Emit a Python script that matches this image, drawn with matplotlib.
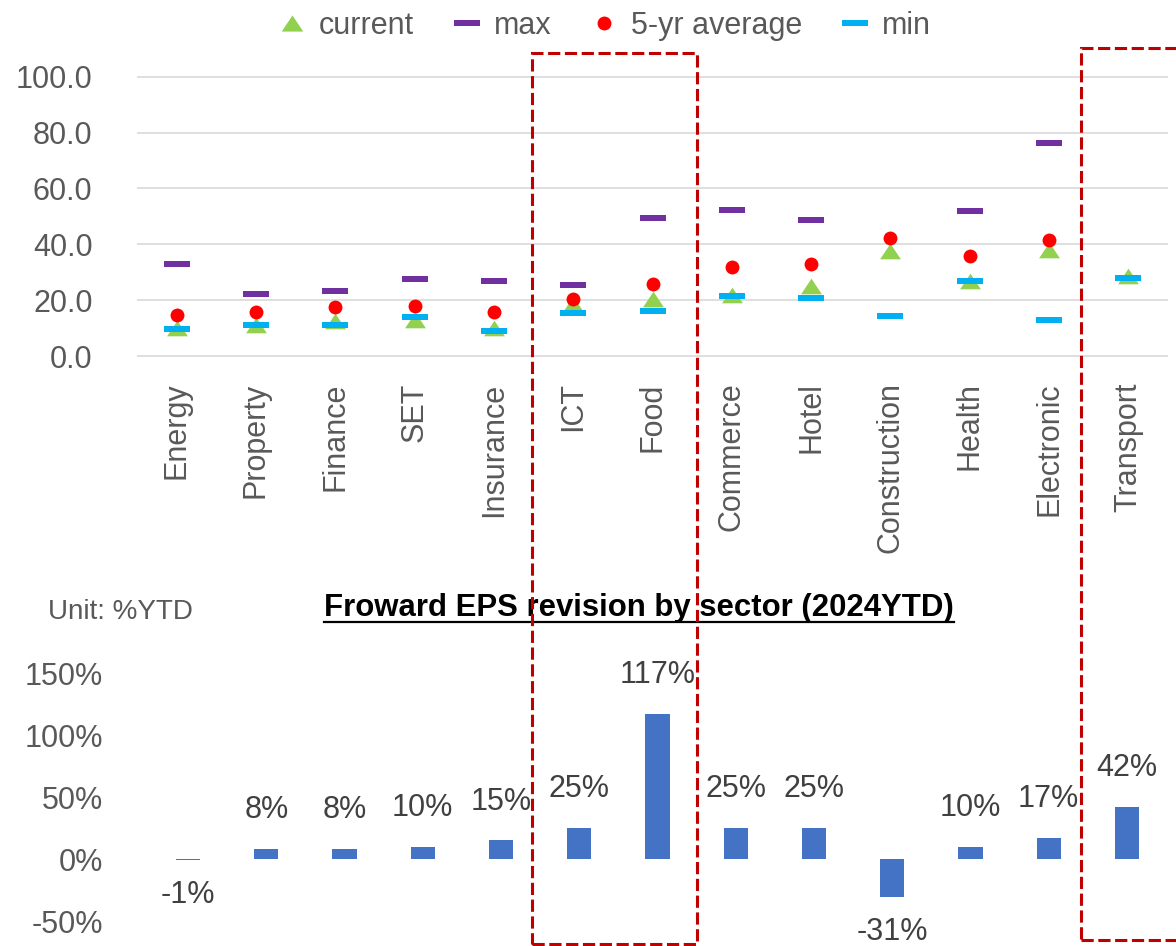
import numpy as np
import matplotlib
matplotlib.use("Agg")
import matplotlib.pyplot as plt
from matplotlib.lines import Line2D
from matplotlib.patches import Rectangle

plt.rcParams['font.family'] = ['Liberation Sans', 'DejaVu Sans']

categories = ['Energy', 'Property', 'Finance', 'SET', 'Insurance', 'ICT', 'Food',
              'Commerce', 'Hotel', 'Construction', 'Health', 'Electronic', 'Transport']
current = [10, 11, 12.5, 13, 10, 18.5, 20.5, 22, 25, 37.5, 27, 38, 28.5]
max_pe = [33, 22.3, 23.4, 27.7, 27, 25.4, 49.4, 52.3, 48.7, np.nan, 51.9, 76.4, np.nan]
avg_5yr = [14.7, 15.9, 17.7, 17.8, 15.9, 20.5, 25.7, 32, 32.9, 42.2, 35.9, 41.5, np.nan]
min_pe = [9.8, 11.2, 11.2, 14.1, 9.1, 15.4, 16.2, 21.5, 20.8, 14.3, 26.8, 12.9, 27.9]
eps_rev = [-1, 8, 8, 10, 15, 25, 117, 25, 25, -31, 10, 17, 42]

W, H = 1176, 946
fig = plt.figure(figsize=(W / 100, H / 100), dpi=100)

def fx(px):
    return px / W

def fy(py):
    return 1 - py / H

GRAY = '#595959'
x = np.arange(len(categories))

# ---------- top panel ----------
ax1 = fig.add_axes([fx(137), fy(361.6), fx(1168 - 137), (361.6 - 71.2) / H])
ax1.set_xlim(-0.5, len(categories) - 0.5)
ax1.set_ylim(-2, 102)
ax1.set_yticks(np.arange(0, 101, 20))
ax1.set_yticklabels([f'{v:.1f}' for v in np.arange(0, 101, 20)])
for v in np.arange(0, 101, 20):
    ax1.axhline(v, color='#D9D9D9', lw=1.2, zorder=0)
for s in ax1.spines.values():
    s.set_visible(False)
ax1.set_xticks(x)
ax1.set_xticklabels(categories, rotation=90, va='top', ha='center')
ax1.tick_params(axis='x', length=0, pad=15, labelsize=22, labelcolor=GRAY)
ax1.tick_params(axis='y', length=0, pad=32, labelsize=22, labelcolor=GRAY)

tri = [(-1, -0.75), (1, -0.75), (0, 0.75), (-1, -0.75)]
dash = [(-1, -0.22), (1, -0.22), (1, 0.22), (-1, 0.22), (-1, -0.22)]

c_tri, c_max, c_avg, c_min = '#92D050', '#7030A0', '#FF0000', '#00B0F0'
ax1.plot(x, current, linestyle='none', marker=tri, markersize=15, color=c_tri, mew=0, clip_on=False, zorder=3)
ax1.plot(x, max_pe, linestyle='none', marker=dash, markersize=19.4, color=c_max, mew=0, clip_on=False, zorder=4)
ax1.plot(x, avg_5yr, linestyle='none', marker='o', markersize=10, color=c_avg, mew=0, clip_on=False, zorder=5)
ax1.plot(x, min_pe, linestyle='none', marker=dash, markersize=19.4, color=c_min, mew=0, clip_on=False, zorder=6)

handles = [
    Line2D([], [], linestyle='none', marker=tri, markersize=15.5, color=c_tri, mew=0),
    Line2D([], [], linestyle='none', marker=dash, markersize=19.4, color=c_max, mew=0),
    Line2D([], [], linestyle='none', marker='o', markersize=10, color=c_avg, mew=0),
    Line2D([], [], linestyle='none', marker=dash, markersize=19.4, color=c_min, mew=0),
]
leg = fig.legend(handles, ['current', 'max', '5-yr average', 'min'], loc='center',
                 bbox_to_anchor=(fx(605), fy(26)), ncol=4, frameon=False, fontsize=22,
                 handlelength=0.85, handletextpad=0.45, columnspacing=1.3, borderpad=0)
for t in leg.get_texts():
    t.set_color(GRAY)

# ---------- bottom panel ----------
ax2 = fig.add_axes([fx(149), fy(921), fx(1166 - 149), (921 - 673) / H])
ax2.set_xlim(-0.5, len(categories) - 0.5)
ax2.set_ylim(-50, 150)
ax2.bar(x, eps_rev, width=0.31, color='#4472C4', zorder=2)
ax2.set_yticks(np.arange(-50, 151, 50))
ax2.set_yticklabels([f'{v:.0f}%' for v in np.arange(-50, 151, 50)])
ax2.set_xticks([])
for s in ax2.spines.values():
    s.set_visible(False)
ax2.tick_params(axis='y', length=0, pad=33, labelsize=22, labelcolor=GRAY)
for xi, v in zip(x, eps_rev):
    off = 28 if v >= 0 else -25
    ax2.annotate(f'{v:.0f}%', (xi, v), xytext=(0, off), textcoords='offset points',
                 ha='center', va='center', fontsize=22, color='#404040', annotation_clip=False)

fig.text(fx(48), fy(612), 'Unit: %YTD', fontsize=20, color=GRAY, ha='left', va='center')
title = fig.text(fx(639), fy(608), 'Froward EPS revision by sector (2024YTD)', fontsize=22.4,
                 fontweight='bold', color='black', ha='center', va='center')
fig.canvas.draw()
bb = title.get_window_extent().transformed(fig.transFigure.inverted())
fig.add_artist(Line2D([bb.x0, bb.x1], [fy(622), fy(622)], color='black', lw=1.6,
                      transform=fig.transFigure))

# ---------- red dashed boxes ----------
for (l, t, r, b) in [(532, 53, 697, 944), (1081, 48, 1190, 940)]:
    rect = Rectangle((fx(l), fy(b)), fx(r - l), (b - t) / H, transform=fig.transFigure,
                     fill=False, edgecolor='#C00000', lw=2.2, linestyle=(0, (4, 1.5)),
                     clip_on=False, zorder=10)
    fig.add_artist(rect)

fig.savefig('out.png', dpi=100)
